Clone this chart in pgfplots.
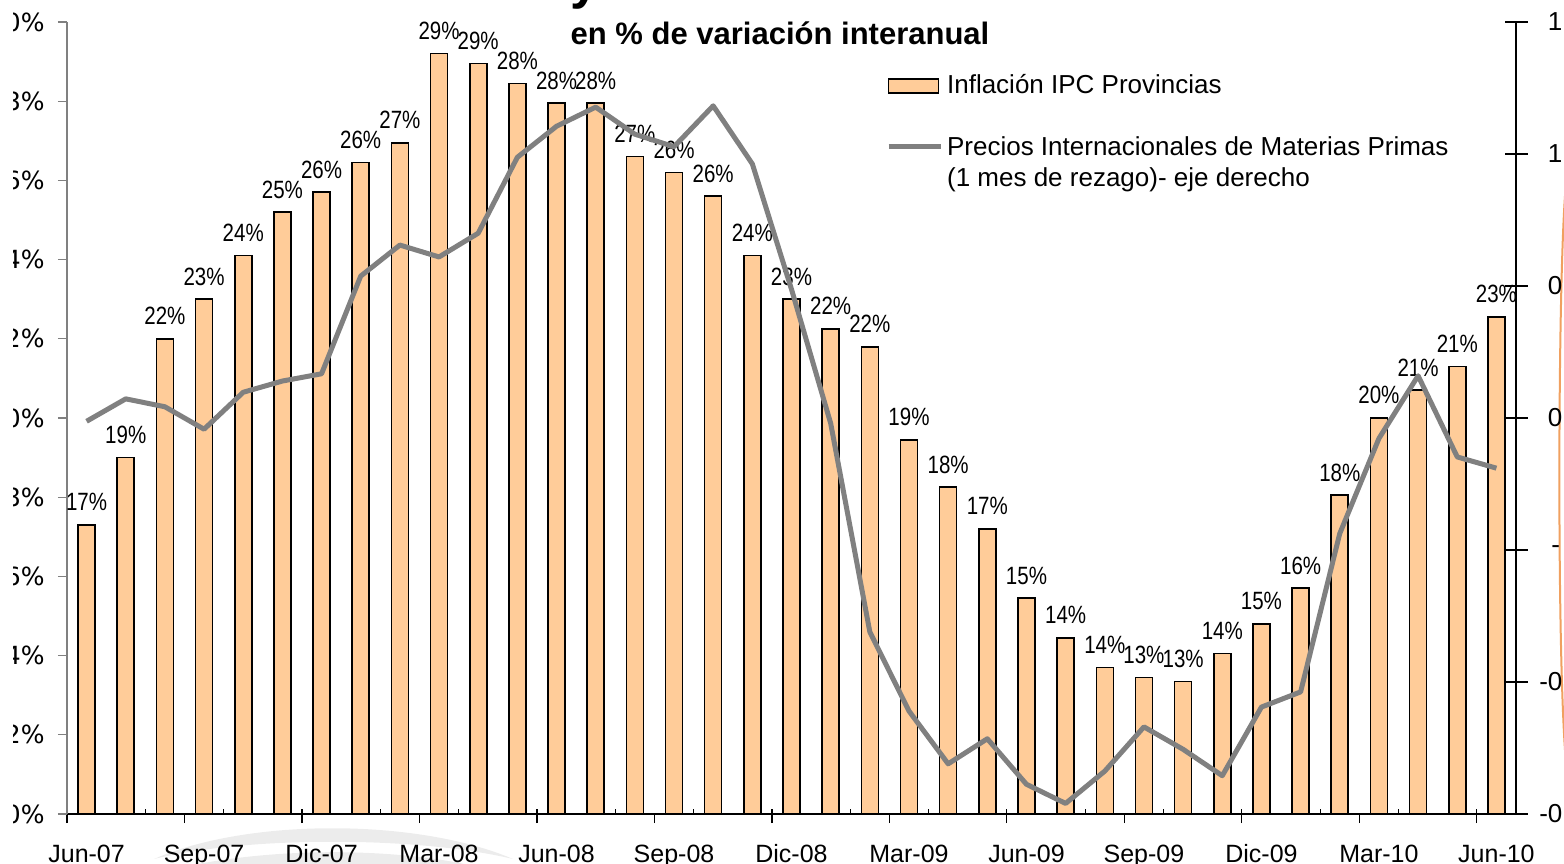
\documentclass[border=0pt]{standalone}
\usepackage{fontspec}
\setmainfont{Liberation Sans}
\newfontfamily\dejavu{DejaVu Sans}
\newfontfamily\narrow[FakeStretch=0.82]{Liberation Sans}
\usepackage{pgfplots}
\pgfplotsset{compat=1.18}

\definecolor{barfill}{HTML}{FFCC99}
\definecolor{linegray}{HTML}{808080}
\definecolor{logoorange}{HTML}{F0A060}

\begin{document}
\begin{tikzpicture}
% the reference is a crop of a larger chart: keep the same window
\useasboundingbox (-33.5pt,-24.5pt) rectangle (748.5pt,407pt);
\clip (-33.5pt,-24.5pt) rectangle (748.5pt,407pt);

% watermark swooshes under the month labels, and the logo edge on the right
\fill[gray!15] (43.5pt,-22.5pt) .. controls (90pt,-2pt) and (175pt,-2pt) .. (223pt,-22.5pt)
  .. controls (175pt,-11pt) and (90pt,-11pt) .. cycle;
\fill[gray!15] (26.5pt,-36pt) .. controls (80pt,-14pt) and (180pt,-14pt) .. (226.5pt,-33pt)
  .. controls (180pt,-22pt) and (80pt,-22pt) .. cycle;
\draw[logoorange, line width=1pt] (749pt,309pt) .. controls (745.5pt,260pt) and (745pt,90pt) .. (749pt,32pt);

% title, only the descender of the "y" is inside the window
\node[anchor=base west, font=\bfseries\fontsize{26}{30}\selectfont, inner sep=0pt]
  at (137.5pt,407.5pt) {Inflación y Precios de Materias Primas};
\node[anchor=base, font=\bfseries\fontsize{15.5}{18}\selectfont, inner sep=0pt]
  at (356.5pt,384.5pt) {en \% de variación interanual};

\begin{axis}[
  scale only axis, width=724.5pt, height=396pt,
  xmin=-0.5, xmax=36.5, ymin=10, ymax=30,
  axis x line*=bottom, axis y line*=left,
  x axis line style={black, line width=0.6pt, -},
  y axis line style={linegray, line width=0.6pt, -},
  /pgf/number format/assume math mode=true,
  ytick={10,12,...,30},
  yticklabel={\pgfmathprintnumber{\tick}\%},
  yticklabel style={font=\dejavu\fontsize{12.5}{15}\selectfont, anchor=east, inner sep=0pt, xshift=-6.5pt},
  ytick style={linegray, line width=0.6pt},
  tick align=outside, major tick length=4.5pt,
  xtick={-0.5,2.5,...,35.5}, xticklabels={},
  xtick style={black, line width=0.6pt},
  minor xtick={1.5,3.5,...,35.5},
  minor tick length=2.5pt,
  minor x tick style={yshift=2.5pt},
  extra x ticks={0,3,...,36},
  extra x tick labels={Jun-07,Sep-07,Dic-07,Mar-08,Jun-08,Sep-08,Dic-08,Mar-09,Jun-09,Sep-09,Dic-09,Mar-10,Jun-10},
  extra x tick style={tick style={draw=none},
    xticklabel style={font=\fontsize{12.5}{15}\selectfont, anchor=base, inner sep=0pt, yshift=-19.5pt}},
  ybar, bar width=8.5pt,
  nodes near coords={\pgfmathprintnumber[fixed,precision=0]{\pgfplotspointmeta}\%},
  nodes near coords style={font=\narrow\fontsize{12.5}{15}\selectfont, inner sep=0pt, yshift=6.5pt, text=black},
  legend style={draw=none, fill=none, at={(0.565,0.939)}, anchor=north west,
    font=\fontsize{13}{15.6}\selectfont, row sep=14.5pt, inner sep=0pt,
    cells={anchor=west}},
  legend cell align=left,
]
\addplot[fill=barfill, draw=black, line width=0.8pt,
  legend image code/.code={\draw[fill=barfill, draw=black, line width=0.8pt] (0pt,-3.5pt) rectangle (25pt,3.5pt);}]
  coordinates {
  (0,17.3) (1,19.0) (2,22.0) (3,23.0) (4,24.1) (5,25.2) (6,25.7) (7,26.45)
  (8,26.95) (9,29.2) (10,28.95) (11,28.45) (12,27.95) (13,27.95) (14,26.6)
  (15,26.2) (16,25.6) (17,24.1) (18,23.0) (19,22.25) (20,21.8) (21,19.45)
  (22,18.25) (23,17.2) (24,15.45) (25,14.45) (26,13.7) (27,13.45) (28,13.35)
  (29,14.05) (30,14.8) (31,15.7) (32,18.05) (33,20.0) (34,20.7) (35,21.3) (36,22.55)};
\addlegendentry{Inflación IPC Provincias}
\addlegendimage{legend image code/.code={\draw[linegray, line width=2.5pt] (0pt,0pt) -- (26pt,0pt);}}
\addlegendentry{\begin{tabular}[t]{@{}l@{}}Precios Internacionales de Materias Primas\\(1 mes de rezago)- eje derecho\end{tabular}}
\end{axis}

\begin{axis}[
  scale only axis, width=724.5pt, height=396pt,
  xmin=-0.5, xmax=36.5, ymin=-60, ymax=60,
  axis x line=none, axis y line*=right,
  y axis line style={black, line width=0.6pt, -},
  ytick={-60,-40,...,60},
  % the labels are cut by the right edge of the image
  yticklabels={\llap{-}0,\llap{-}0,\hspace*{6pt}\llap{-},0,0,1,1},
  yticklabel style={font=\fontsize{13}{15}\selectfont, anchor=west, inner sep=0pt, xshift=10pt},
  tick align=center, major tick length=11.5pt,
  ytick style={black, line width=0.6pt},
]
\addplot[linegray, line width=2.5pt, line join=round] coordinates {
  (0,-0.5) (1,2.9) (2,1.7) (3,-1.7) (4,3.9) (5,5.6) (6,6.7) (7,21.5)
  (8,26.2) (9,24.4) (10,28.0) (11,39.5) (12,44.2) (13,47.1) (14,43.0)
  (15,41.1) (16,47.3) (17,38.5) (18,19.5) (19,-0.8) (20,-32.4) (21,-44.4)
  (22,-52.4) (23,-48.6) (24,-55.5) (25,-58.4) (26,-53.5) (27,-46.8) (28,-50.2)
  (29,-54.2) (30,-43.8) (31,-41.5) (32,-17.5) (33,-3.1) (34,6.4) (35,-5.9) (36,-7.6)};
\end{axis}

% the left edge of the reference hides the first digits of the left labels
\fill[white] (-34pt,-25pt) rectangle (-27pt,408pt);
\end{tikzpicture}
\end{document}
